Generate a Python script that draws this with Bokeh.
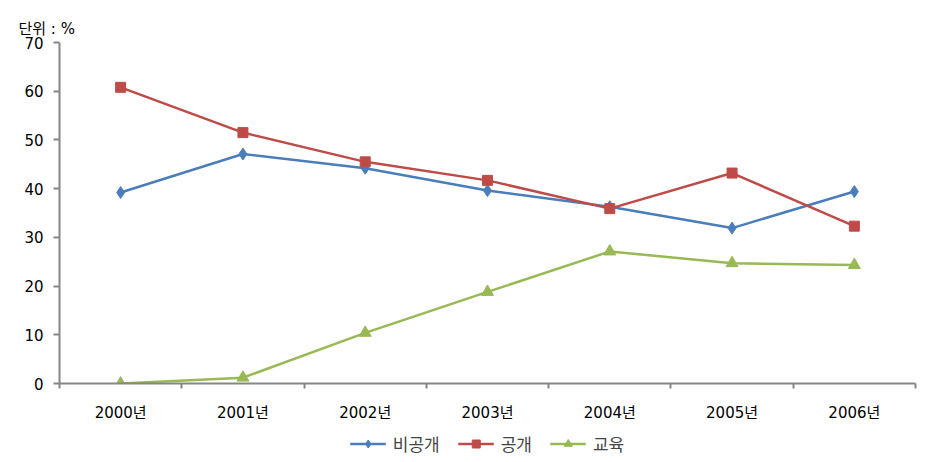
from bokeh.plotting import figure
from bokeh.layouts import column
from bokeh.models import FixedTicker, Legend, LegendItem, Range1d
from bokeh.embed import file_html
from bokeh.resources import INLINE

years = ["2000년", "2001년", "2002년", "2003년", "2004년", "2005년", "2006년"]
closed = [39.2, 47.1, 44.2, 39.6, 36.3, 31.9, 39.4]
opened = [60.8, 51.5, 45.5, 41.7, 35.9, 43.2, 32.3]
edu = [0.0, 1.2, 10.4, 18.8, 27.1, 24.7, 24.3]
names = ["비공개", "공개", "교육"]
yticks = [0, 10, 20, 30, 40, 50, 60, 70]

FONT = "'DejaVu Sans', 'Noto Sans CJK KR'"
KFONT = "Noto Sans CJK KR"
xs = [i + 0.5 for i in range(len(years))]
colors = ["#4A7EBB", "#BE4B48", "#98B954"]
series = [closed, opened, edu]
markers = ["diamond", "square", "triangle"]
msizes = [12, 10, 12]

p = figure(frame_width=856, frame_height=341, output_backend="svg", toolbar_location=None,
           x_range=Range1d(0, len(years)), y_range=Range1d(0, 70),
           min_border_left=59, min_border_right=4, min_border_top=42, min_border_bottom=45,
           title="단위 : %")
p.outline_line_color = None
p.grid.visible = False
p.title.text_font = FONT
p.title.text_font_size = "15px"
p.title.text_font_style = "normal"
p.title.text_color = "black"
p.title.align = "left"
p.title.offset = -41

for vals, c, mk, ms in zip(series, colors, markers, msizes):
    p.line(xs, vals, line_color=c, line_width=2.5)
    p.scatter(xs, vals, marker=mk, size=ms, color=c)

ax = p.xaxis[0]
ax.ticker = FixedTicker(ticks=xs, minor_ticks=list(range(len(years) + 1)))
ax.major_label_overrides = {x: y for x, y in zip(xs, years)}
ax.major_tick_line_color = None
ax.major_tick_out = 0
ax.major_tick_in = 0
ax.minor_tick_line_color = "#868686"
ax.minor_tick_line_width = 2
ax.minor_tick_out = 5
ax.minor_tick_in = 0
ax.axis_line_color = "#868686"
ax.axis_line_width = 2
ax.major_label_text_font = FONT
ax.major_label_text_font_size = "15px"
ax.major_label_text_color = "black"
ax.major_label_standoff = 15

ay = p.yaxis[0]
ay.ticker = FixedTicker(ticks=yticks)
ay.minor_tick_line_color = None
ay.major_tick_line_color = "#868686"
ay.major_tick_line_width = 2
ay.major_tick_out = 6
ay.major_tick_in = 0
ay.axis_line_color = "#868686"
ay.axis_line_width = 2
ay.major_label_text_font = FONT
ay.major_label_text_font_size = "15px"
ay.major_label_text_color = "black"
ay.major_label_standoff = 10

# legend strip below the chart (glyphs kept out of view, only the legend shows)
lp = figure(width=919, height=30, output_backend="svg", toolbar_location=None,
            x_range=Range1d(100, 101), y_range=Range1d(100, 101),
            x_axis_type=None, y_axis_type=None,
            min_border_left=0, min_border_right=0, min_border_top=0, min_border_bottom=0)
lp.outline_line_color = None
lp.grid.visible = False
items = []
for name, vals, c, mk, ms in zip(names, series, colors, markers, msizes):
    rl = lp.line(xs, vals, line_color=c, line_width=2.5)
    rm = lp.scatter(xs, vals, marker=mk, size=ms - 2, color=c)
    items.append(LegendItem(label=name, renderers=[rl, rm]))

legend = Legend(items=items, orientation="horizontal", location="center",
                label_text_font=KFONT, label_text_font_size="17px",
                glyph_width=36, spacing=18, border_line_color=None,
                background_fill_alpha=0,
                padding=2, margin=0, label_standoff=7)
lp.add_layout(legend, "center")

open("out.html", "w").write(file_html(column(p, lp), INLINE))
